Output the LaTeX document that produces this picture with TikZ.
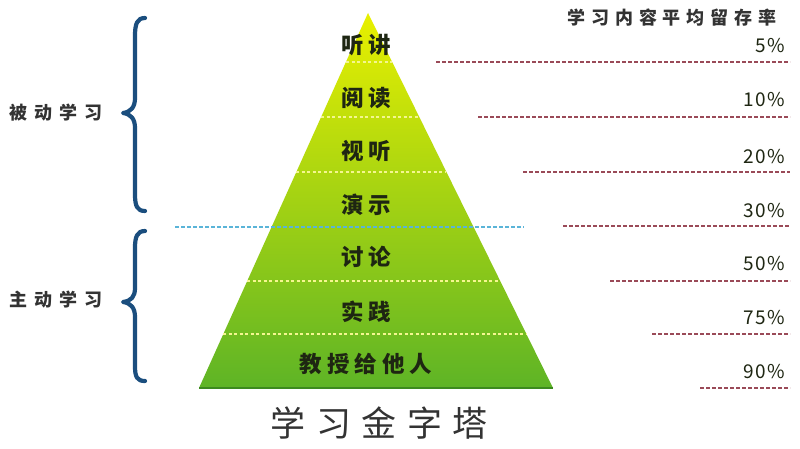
\documentclass[tikz,border=0pt]{standalone}
\usepackage{fontspec}
\setmainfont{Noto Sans CJK SC}
\newfontfamily\cjk{Noto Sans CJK SC}
\usetikzlibrary{calc}
\definecolor{pyrTop}{HTML}{E8F000}
\definecolor{pyrMid}{HTML}{B4D400}
\definecolor{pyrBot}{HTML}{5EB426}
\definecolor{baseGreen}{HTML}{3C8A1E}
\definecolor{braceBlue}{HTML}{1B4E7E}
\definecolor{dashRed}{HTML}{9A4A58}
\definecolor{dashBlue}{HTML}{5AB4D8}
\definecolor{innerDash}{HTML}{F4F690}
\definecolor{txtDark}{HTML}{1E2612}
\definecolor{txtGray}{HTML}{333333}
\tikzset{
  levellabel/.style={font=\cjk\fontsize{22.5}{26}\selectfont\bfseries\addfontfeature{LetterSpace=22}, text=txtDark, inner sep=0pt},
  sidelabel/.style={font=\cjk\fontsize{18}{22}\selectfont\bfseries\addfontfeature{LetterSpace=38}, text=txtGray, inner sep=0pt},
  pctlabel/.style={font=\cjk\fontsize{19}{22}\selectfont\addfontfeature{LetterSpace=6}, text=txtDark, inner sep=0pt, anchor=east},
  headlabel/.style={font=\cjk\fontsize{18}{22}\selectfont\bfseries\addfontfeature{LetterSpace=33}, text=txtGray, inner sep=0pt},
  titlelabel/.style={font=\cjk\fontsize{35}{40}\selectfont\addfontfeature{LetterSpace=30}, text=txtGray, inner sep=0pt},
  innerline/.style={draw=innerDash, line width=1.6pt, dash pattern=on 3pt off 2.5pt},
  retline/.style={draw=dashRed, line width=1.6pt, dash pattern=on 3.5pt off 2.5pt},
  splitline/.style={draw=dashBlue, line width=1.6pt, dash pattern=on 3.5pt off 2.5pt},
  bracepath/.style={draw=braceBlue, line width=4.2pt, line cap=round, line join=round},
}
\begin{document}
\begin{tikzpicture}[x=1pt,y=-1pt]
\useasboundingbox[fill=white] (0,0) rectangle (800,449);
% pyramid
\coordinate (apex) at (368,13);
\coordinate (bl) at (199,388);
\coordinate (br) at (553,388);
\shade[top color=pyrTop, middle color=pyrMid, bottom color=pyrBot] (apex) -- (br) -- (bl) -- cycle;
\draw[baseGreen, line width=2.2pt] (bl) -- (br);
% inner dashed lines
\foreach \yy/\xl/\xr in {62/346/392, 117/321/419, 172/296/446, 281/247/500, 334/223/526}{
  \coordinate (L\yy) at (\xl,\yy);
  \coordinate (R\yy) at (\xr,\yy);
  \draw[innerline] (L\yy) -- (R\yy);
}
% split line
\coordinate (sL) at (175,227);
\coordinate (sR) at (524,227);
\draw[splitline] (sL) -- (sR);
% level labels
\node[levellabel] (l1) at (366,45) {听讲};
\node[levellabel] (l2) at (366,98) {阅读};
\node[levellabel] (l3) at (366,151) {视听};
\node[levellabel] (l4) at (366,205) {演示};
\node[levellabel] (l5) at (366,257) {讨论};
\node[levellabel] (l6) at (366,312) {实践};
\node[levellabel] (l7) at (366,364) {教授给他人};
% retention header and values
\node[headlabel] (head) at (672,18) {学习内容平均留存率};
\node[pctlabel] (p1) at (785,46) {5\%};
\node[pctlabel] (p2) at (785,100) {10\%};
\node[pctlabel] (p3) at (785,157) {20\%};
\node[pctlabel] (p4) at (785,211) {30\%};
\node[pctlabel] (p5) at (785,264) {50\%};
\node[pctlabel] (p6) at (785,318) {75\%};
\node[pctlabel] (p7) at (785,372) {90\%};
\foreach \yy/\xs/\n in {62/436/1, 117/478/2, 172/523/3, 226/563/4, 281/610/5, 334/652/6, 388/700/7}{
  \coordinate (rs\n) at (\xs,\yy);
  \coordinate (re\n) at (790,\yy);
  \draw[retline] (rs\n) -- (re\n);
}
% braces
\draw[bracepath] (145,18) .. controls (137,18) and (135,24) .. (135,36) -- (135,98) .. controls (135,107) and (131,112) .. (123,113) .. controls (131,114) and (135,119) .. (135,128) -- (135,194) .. controls (135,206) and (137,211) .. (145,211);
\draw[bracepath] (145,231) .. controls (137,231) and (135,237) .. (135,248) -- (135,288) .. controls (135,297) and (131,301) .. (123,302) .. controls (131,303) and (135,308) .. (135,317) -- (135,366) .. controls (135,377) and (137,381) .. (145,381);
% side labels
\node[sidelabel] (pass) at (56,113) {被动学习};
\node[sidelabel] (act) at (56,300) {主动学习};
% title
\node[titlelabel] (title) at (379,423) {学习金字塔};
\end{tikzpicture}
\end{document}
